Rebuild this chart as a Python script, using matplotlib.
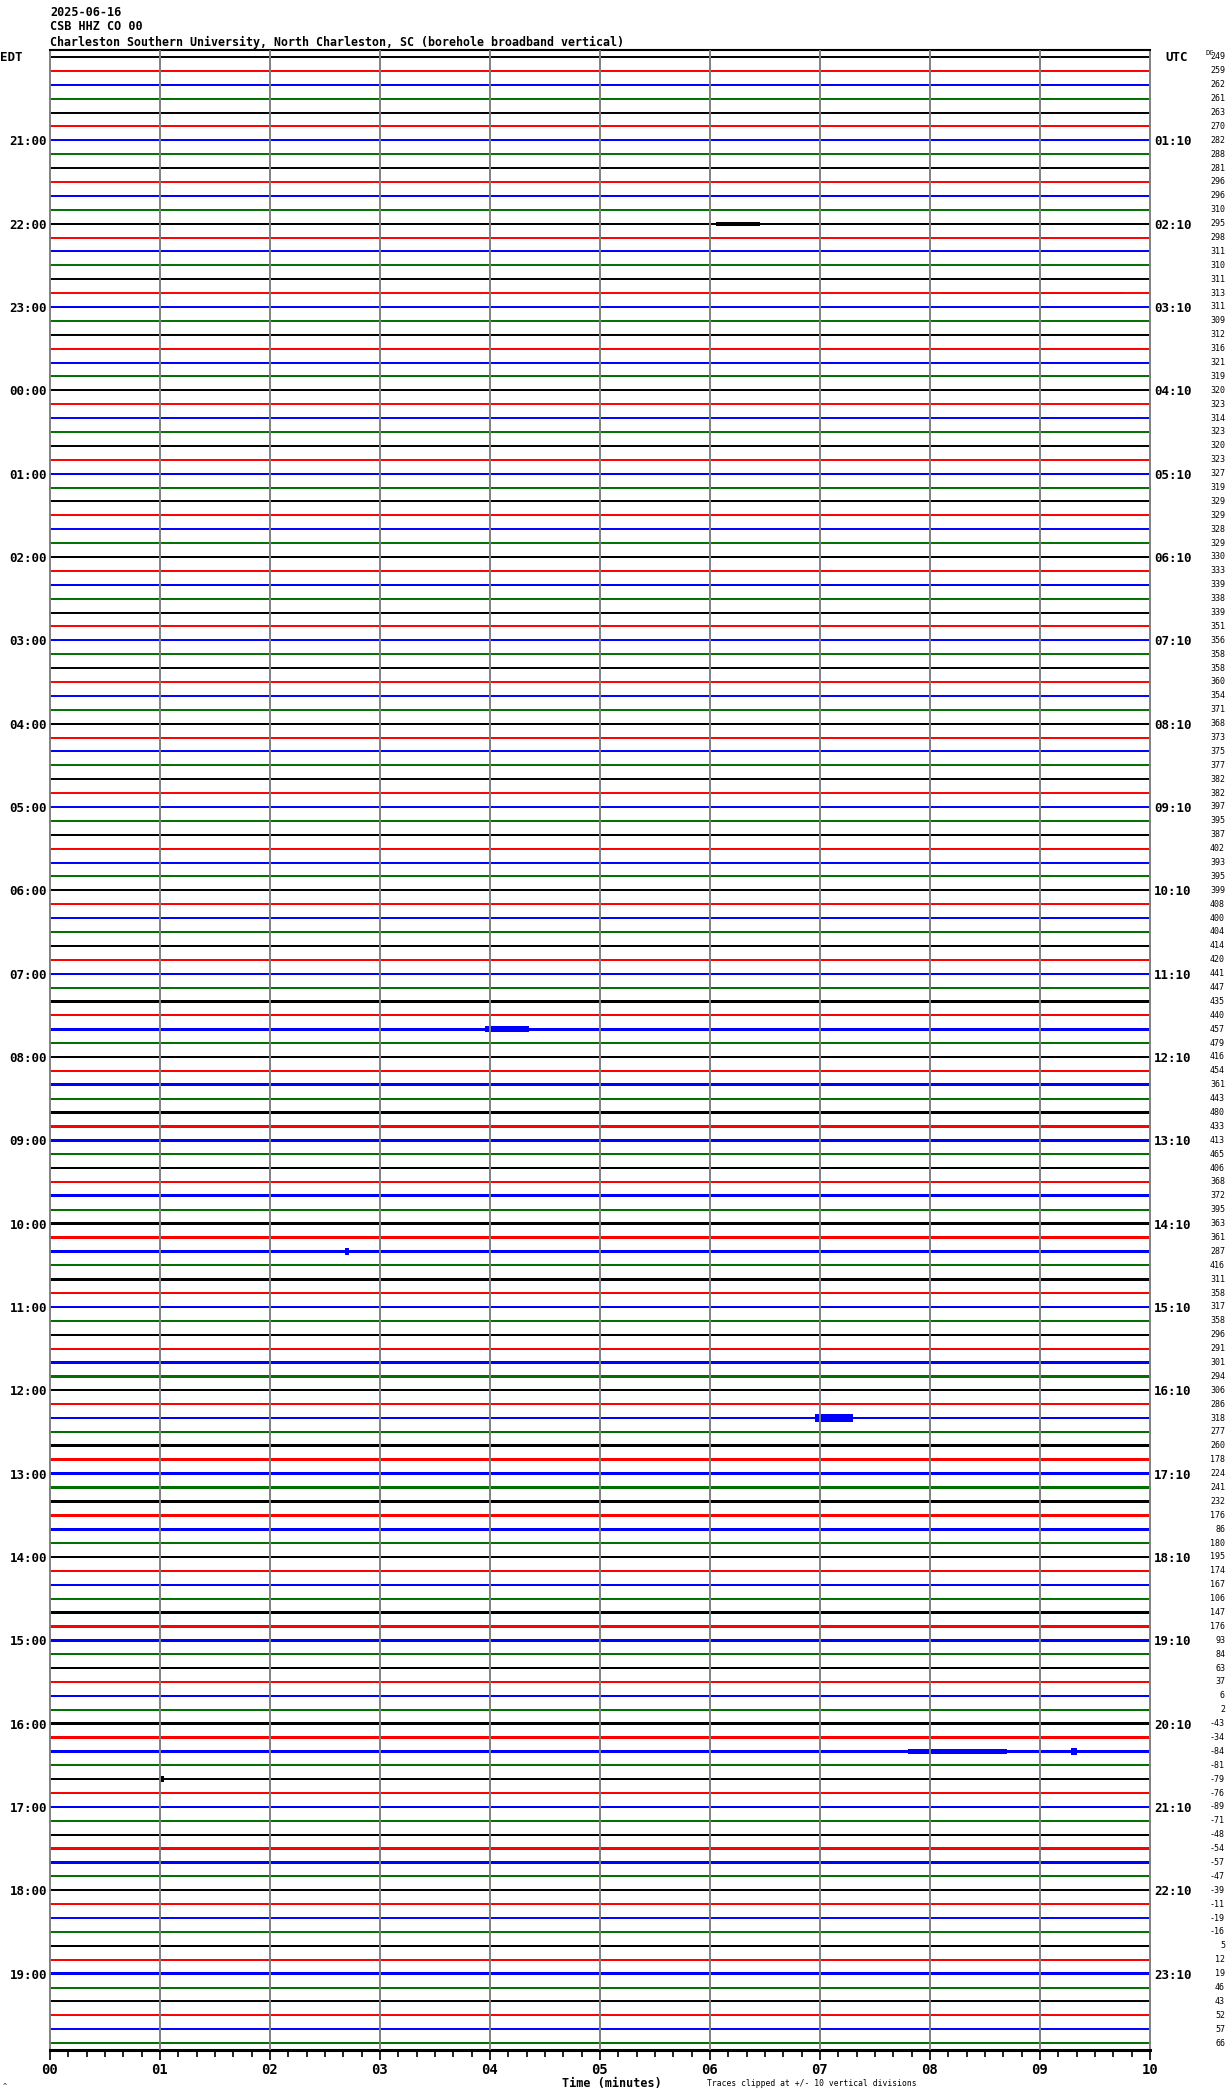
import numpy as np
import matplotlib
matplotlib.use("Agg")
import matplotlib.pyplot as plt
from matplotlib.transforms import blended_transform_factory

trace_colors = ["#000000", "#ff0000", "#0000ff", "#007000"]

dc_values = [
    249, 259, 262, 261, 263, 270, 282, 288, 281, 296, 296, 310,
    295, 298, 311, 310, 311, 313, 311, 309, 312, 316, 321, 319,
    320, 323, 314, 323, 320, 323, 327, 319, 329, 329, 328, 329,
    330, 333, 339, 338, 339, 351, 356, 358, 358, 360, 354, 371,
    368, 373, 375, 377, 382, 382, 397, 395, 387, 402, 393, 395,
    399, 408, 400, 404, 414, 420, 441, 447, 435, 440, 457, 479,
    416, 454, 361, 443, 480, 433, 413, 465, 406, 368, 372, 395,
    363, 361, 287, 416, 311, 358, 317, 358, 296, 291, 301, 294,
    306, 286, 318, 277, 260, 178, 224, 241, 232, 176, 86, 180,
    195, 174, 167, 106, 147, 176, 93, 84, 63, 37, 6, 2,
    -43, -34, -84, -81, -79, -76, -89, -71, -48, -54, -57, -47,
    -39, -11, -19, -16, 5, 12, 19, 46, 43, 52, 57, 66,
]

# rough noise level of each 10-minute trace (0 = quiet, 3 = very noisy)
noise_level = [
    0.5, 1, 1, 1.5, 1, 1, 0.5, 0, 0, 0, 1, 1,
    2, 1.5, 0.5, 0, 0, 0.5, 0.5, 0.5, 1, 0.5, 1.5, 1,
    0.5, 0.5, 0.5, 0, 0, 0.5, 2, 0.5, 1, 1, 0, 0.5,
    1, 1, 1.5, 1, 1, 1, 1, 0.5, 0, 0.5, 0, 0,
    2, 1, 1, 1, 0.5, 0, 0.5, 1, 1.5, 1, 1, 1,
    1, 1, 1, 1, 1, 1.5, 2, 1.5, 2.5, 2, 2.5, 2,
    2, 2, 2.5, 2, 2.5, 2, 2.5, 2, 2, 2, 2.5, 2,
    2.5, 2, 2.5, 2, 2.5, 2.5, 2.5, 2, 2, 2, 2, 2,
    2, 2, 2.5, 2, 2.5, 2.5, 2.5, 2, 2.5, 2.5, 2.5, 2,
    2, 2, 2, 1.5, 2, 2, 2.5, 1.5, 2, 2, 2, 2,
    2.5, 2, 2, 1.5, 1, 1, 1, 1, 2, 2, 2, 1.5,
    0.5, 1, 0, 0, 1.5, 1.5, 2, 1.5, 1.5, 1, 0.5, 1,
]

# bursts visible on single traces: (trace index, start min, end min, amplitude)
events = [
    (12, 6.05, 6.45, 0.14),
    (17, 8.10, 9.75, 0.10),
    (18, 0.00, 1.00, 0.09),
    (70, 3.95, 4.35, 0.20),
    (98, 6.95, 7.30, 0.28),
    (122, 7.80, 8.70, 0.18),
    (122, 9.28, 9.34, 0.28),
    (86, 2.68, 2.72, 0.28),
    (124, 1.01, 1.04, 0.22),
]

edt_labels = ["21:00", "22:00", "23:00", "00:00", "01:00", "02:00", "03:00",
              "04:00", "05:00", "06:00", "07:00", "08:00", "09:00", "10:00",
              "11:00", "12:00", "13:00", "14:00", "15:00", "16:00", "17:00",
              "18:00", "19:00"]
utc_labels = ["01:10", "02:10", "03:10", "04:10", "05:10", "06:10", "07:10",
              "08:10", "09:10", "10:10", "11:10", "12:10", "13:10", "14:10",
              "15:10", "16:10", "17:10", "18:10", "19:10", "20:10", "21:10",
              "22:10", "23:10"]
minute_labels = ["00", "01", "02", "03", "04", "05", "06", "07", "08", "09", "10"]

W, H = 1230, 2094
mono = "DejaVu Sans Mono"

fig = plt.figure(figsize=(W / 100, H / 100), dpi=100)
ax = fig.add_axes([50 / W, 1 - 2050 / H, 1100 / W, 2000 / H])

n = len(dc_values)
span = [0, 10]
for i in range(n):
    c = trace_colors[i % 4]
    ax.plot(span, [i, i], color=c, lw=1.4, solid_capstyle="butt")
    h = 0.04 * noise_level[i]
    if h > 0:
        ax.fill_between(span, i - h, i + h, color=c, lw=0)

for line, t0, t1, amp in events:
    ax.fill_between([t0, t1], line - amp, line + amp,
                    color=trace_colors[line % 4], lw=0)

# minute grid drawn over the traces
for m in range(1, 10):
    ax.axvline(m, color="#808080", lw=1.4, zorder=3)

ax.set_xlim(0, 10)
ax.set_ylim(n - 0.5, -0.5)

for side in ["left", "right"]:
    ax.spines[side].set_color("#808080")
    ax.spines[side].set_linewidth(1.4)
ax.spines["top"].set_linewidth(1.5)
ax.spines["bottom"].set_linewidth(2.2)

ax.set_xticks(range(11), minute_labels)
ax.set_xticks(np.arange(0, 10, 1 / 6), minor=True)
ax.tick_params(axis="x", which="major", length=7, width=1.2, pad=2,
               labelsize=10)
ax.tick_params(axis="x", which="minor", length=5, width=1.2)
for lab in ax.get_xticklabels():
    lab.set_family(mono)
    lab.set_weight("bold")

hour_lines = list(range(6, n, 6))
ax.set_yticks(hour_lines, edt_labels)
ax.tick_params(axis="y", length=0, pad=2, labelsize=9)
for lab in ax.get_yticklabels():
    lab.set_family(mono)
    lab.set_weight("bold")

ax2 = ax.twinx()
ax2.set_ylim(ax.get_ylim())
ax2.set_yticks(hour_lines, utc_labels)
ax2.tick_params(axis="y", length=0, pad=3, labelsize=9)
for lab in ax2.get_yticklabels():
    lab.set_family(mono)
    lab.set_weight("bold")
for s in ax2.spines.values():
    s.set_visible(False)

tr = blended_transform_factory(fig.transFigure, ax.transData)
for i, v in enumerate(dc_values):
    ax.text(1225 / W, i, str(v), transform=tr, ha="right", va="center",
            family=mono, fontsize=6)

# header
fig.text(50 / W, 1 - 12 / H, "2025-06-16", family=mono, fontsize=8.5,
         weight="bold", va="center")
fig.text(50 / W, 1 - 27 / H, "CSB HHZ CO 00", family=mono, fontsize=8.5,
         weight="bold", va="center")
fig.text(50 / W, 1 - 42 / H,
         "Charleston Southern University, North Charleston, SC (borehole broadband vertical)",
         family=mono, fontsize=8.4, weight="bold", va="center")
fig.text(0, 1 - 57 / H, "EDT", family=mono, fontsize=9, weight="bold", va="center")
fig.text(1165 / W, 1 - 57 / H, "UTC", family=mono, fontsize=9, weight="bold", va="center")
fig.text(1206 / W, 1 - 53 / H, "DC", family=mono, fontsize=5, va="center")

# footer
fig.text(612 / W, 1 - 2083 / H, "Time (minutes)", family=mono, fontsize=8.5,
         weight="bold", ha="center", va="center")
fig.text(707 / W, 1 - 2083 / H, "Traces clipped at +/- 10 vertical divisions",
         family=mono, fontsize=5.8, va="center")
fig.text(3 / W, 1 - 2086 / H, "^", family=mono, fontsize=5, va="center")

fig.savefig("out.png", dpi=100)
